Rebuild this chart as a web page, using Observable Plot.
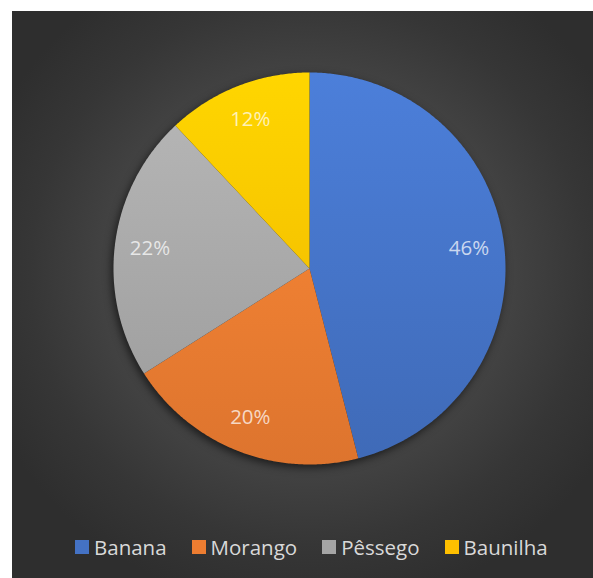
<!DOCTYPE html>
<html>
<head>
<meta charset="utf-8">
<script src="https://cdn.jsdelivr.net/npm/d3@7"></script>
<script src="https://cdn.jsdelivr.net/npm/@observablehq/plot@0.6"></script>
<style>
  html, body { margin: 0; padding: 0; background: #ffffff; }
  #frame {
    position: absolute; left: 12px; top: 11px; width: 581px; height: 567px;
    background: radial-gradient(ellipse 60% 60% at 51% 46%, #5e5e5e 0%, #4a4a4a 45%, #363636 80%, #2e2e2e 100%);
    overflow: hidden;
    font-family: "Open Sans", sans-serif;
  }
  #chart { position: absolute; left: 0; top: 0; }
  #chart g[aria-label="line"] { filter: drop-shadow(-2px 3px 4px rgba(0,0,0,0.6)); }
  #legend {
    position: absolute; left: 63px; top: 521px; height: 30px;
    display: flex; align-items: center; white-space: nowrap;
    color: #d9d9d9; font-size: 20.5px; font-family: "Open Sans", sans-serif;
  }
  #legend .item { display: flex; align-items: center; margin-right: 25px; }
  #legend .sw { width: 14px; height: 14px; margin-right: 5px; }
</style>
</head>
<body>
<div id="frame">
  <div id="chart"></div>
  <div id="legend"></div>
</div>
<script>
const categories = ["Banana", "Morango", "Pêssego", "Baunilha"];
const values = [46, 20, 22, 12];
const labels = ["46%", "20%", "22%", "12%"];
const colors = ["#4472C4", "#ED7D31", "#A5A5A5", "#FFC000"];

const W = 581, H = 500;
const cx = 297, cy = 257, R = 196;

const arcs = d3.pie().sort(null).value(d => d)(values);

// polygon outline of each slice in unit coordinates (y up)
const points = [];
arcs.forEach((a, i) => {
  const id = `url(#grad${i})`;
  points.push({cat: categories[i], x: 0, y: 0, fill: id});
  const steps = Math.max(2, Math.ceil((a.endAngle - a.startAngle) / (Math.PI / 360)));
  for (let k = 0; k <= steps; k++) {
    const t = a.startAngle + (a.endAngle - a.startAngle) * k / steps;
    points.push({cat: categories[i], x: Math.sin(t), y: Math.cos(t), fill: id});
  }
  points.push({cat: categories[i], x: 0, y: 0, fill: id});
});

const labelR = 0.82;
const labelData = arcs.map((a, i) => {
  const m = (a.startAngle + a.endAngle) / 2;
  return {text: labels[i], x: labelR * Math.sin(m), y: labelR * Math.cos(m)};
});

const defs = () => {
  const d = d3.create("svg:defs");
  colors.forEach((c, i) => {
    const g = d.append("linearGradient")
      .attr("id", `grad${i}`)
      .attr("gradientUnits", "userSpaceOnUse")
      .attr("x1", 0).attr("y1", cy - R).attr("x2", 0).attr("y2", cy + R);
    g.append("stop").attr("offset", "0%").attr("stop-color", d3.color(c).brighter(0.3).formatHex());
    g.append("stop").attr("offset", "100%").attr("stop-color", d3.color(c).darker(0.2).formatHex());
  });
  return d.node();
};

const plot = Plot.plot({
  width: W, height: H,
  marginLeft: cx - R, marginRight: W - (cx + R),
  marginTop: cy - R, marginBottom: H - (cy + R),
  x: {domain: [-1, 1], axis: null},
  y: {domain: [-1, 1], axis: null},
  color: {type: "identity"},
  style: {background: "transparent", overflow: "visible"},
  marks: [
    defs,
    Plot.line(points, {x: "x", y: "y", z: "cat", fill: "fill", stroke: null, curve: "linear"}),
    Plot.text(labelData, {
      x: "x", y: "y", text: "text",
      fill: "#ffffff", fillOpacity: 0.72,
      fontSize: 20.5, fontFamily: "Open Sans, sans-serif"
    })
  ]
});
document.getElementById("chart").appendChild(plot);

const legend = document.getElementById("legend");
categories.forEach((c, i) => {
  const item = document.createElement("div");
  item.className = "item";
  const sw = document.createElement("div");
  sw.className = "sw";
  sw.style.background = colors[i];
  const tx = document.createElement("span");
  tx.textContent = c;
  item.appendChild(sw);
  item.appendChild(tx);
  legend.appendChild(item);
});
</script>
</body>
</html>
